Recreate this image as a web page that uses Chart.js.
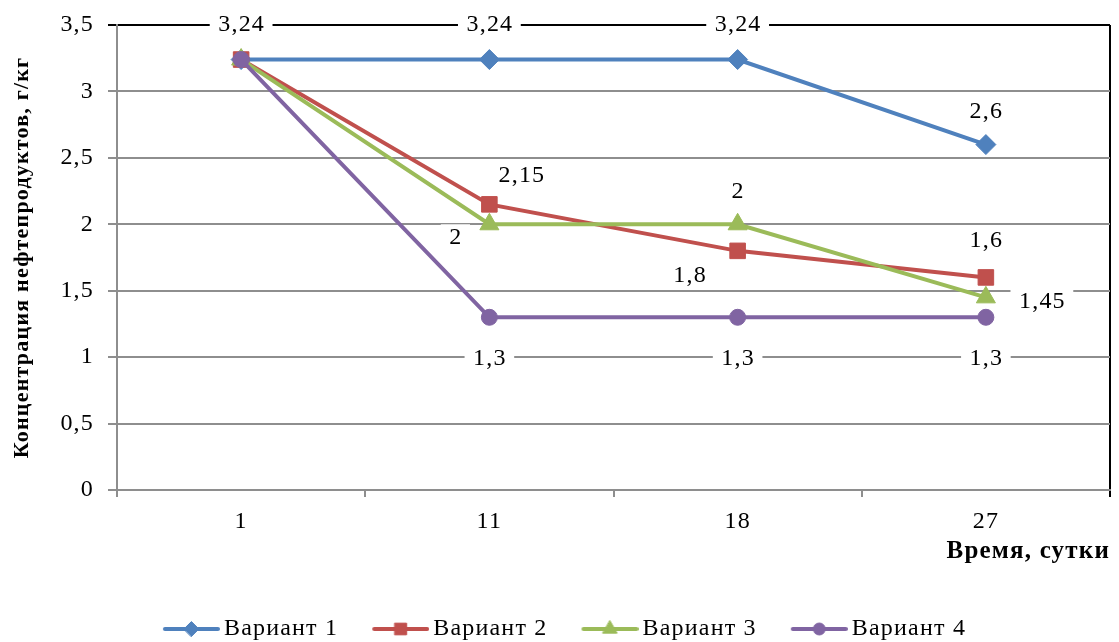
<!DOCTYPE html>
<html>
<head>
<meta charset="utf-8">
<script src="https://cdn.jsdelivr.net/npm/chart.js@4.4.1/dist/chart.umd.min.js"></script>
<style>
  html, body { margin: 0; padding: 0; background: #ffffff; }
  #wrap { width: 1119px; height: 642px; }
</style>
</head>
<body>
<div id="wrap"><canvas id="chart" width="1119" height="642"></canvas></div>
<script>
// ---- data ----
const days = ['1', '11', '18', '27'];
const variant1 = [3.24, 3.24, 3.24, 2.6];
const variant2 = [3.24, 2.15, 1.8, 1.6];
const variant3 = [3.24, 2, 2, 1.45];
const variant4 = [3.24, 1.3, 1.3, 1.3];
const seriesNames = ['Вариант 1', 'Вариант 2', 'Вариант 3', 'Вариант 4'];
const yTickValues = [0, 0.5, 1, 1.5, 2, 2.5, 3, 3.5];
const xAxisTitle = 'Время, сутки';
const yAxisTitle = 'Концентрация нефтепродуктов, г/кг';

// ---- styling ----
const SERIF = "'Liberation Serif', 'Times New Roman', serif";
const TEXT_SIZE = 24;
const GRID = '#8e8e8e';
const colors = ['#4f81bd', '#c0504d', '#9bbb59', '#8064a2'];
const markers = [
  { style: 'rectRot', radius: 10 },
  { style: 'rect', radius: 11 },
  { style: 'triangle', radius: 11 },
  { style: 'circle', radius: 8 }
];
// where each value label sits relative to its point (null = no label)
const labelOffsets = [
  [[0, -36], [0, -36], [0, -36], [0, -34]],
  [null, [32, -30], [-48, 24], [0, -38]],
  [null, [-34, 12], [0, -34], [56, 3]],
  [null, [0, 40], [0, 40], [0, 40]]
];
const LEGEND_DROP = 9;    // legend sits slightly below the canvas' nominal bottom edge
const PAD_LEFT = 18;      // shifts the centred legend a little to the right
const PLOT_LEFT = 117;
const PLOT_BOTTOM = 490;

const fmt = v => String(v).replace('.', ',');

// legend icons: a short line with the series marker in the middle
const LEGEND_BOX = 50;
function legendIcon(color, marker) {
  const c = document.createElement('canvas');
  c.width = LEGEND_BOX + 16;
  c.height = 22;
  const g = c.getContext('2d');
  g.strokeStyle = color;
  g.lineWidth = 4;
  g.lineCap = 'round';
  g.beginPath();
  g.moveTo(11, 11);
  g.lineTo(c.width - 2, 11);
  g.stroke();
  g.fillStyle = color;
  g.strokeStyle = color;
  g.lineWidth = 1;
  Chart.helpers.drawPoint(g, { pointStyle: marker.style, radius: marker.radius * 0.75, rotation: 0, borderWidth: 1 }, 9 + (c.width - 9) / 2, 11);
  return c;
}
const legendIcons = colors.map((c, i) => legendIcon(c, markers[i]));

// Times-like text in this chart is set fairly wide
const SPACING = '1.2px';
const textSpacing = {
  id: 'textSpacing',
  beforeUpdate(chart) { chart.ctx.letterSpacing = SPACING; },
  beforeLayout(chart) { chart.ctx.letterSpacing = SPACING; },
  beforeDraw(chart) { chart.ctx.letterSpacing = SPACING; }
};

// value labels on a white backing
const valueLabels = {
  id: 'valueLabels',
  afterDatasetsDraw(chart) {
    const ctx = chart.ctx;
    ctx.save();
    ctx.font = TEXT_SIZE + 'px ' + SERIF;
    ctx.textAlign = 'center';
    ctx.textBaseline = 'middle';
    chart.data.datasets.forEach((ds, di) => {
      const meta = chart.getDatasetMeta(di);
      meta.data.forEach((pt, i) => {
        const off = labelOffsets[di][i];
        if (!off) return;
        const x = pt.x + off[0];
        const y = pt.y + off[1];
        const txt = fmt(ds.data[i]);
        const w = ctx.measureText(txt).width;
        ctx.fillStyle = '#ffffff';
        ctx.fillRect(x - w / 2 - 8, y - 12, w + 16, 24);
        ctx.fillStyle = '#000000';
        ctx.fillText(txt, x + 0.5, y + 1);
      });
    });
    ctx.restore();
  }
};

const seriesValues = [variant1, variant2, variant3, variant4];
const datasets = seriesValues.map((vals, i) => ({
  label: seriesNames[i],
  data: vals,
  borderColor: colors[i],
  backgroundColor: colors[i],
  borderWidth: 4,
  tension: 0,
  pointStyle: markers[i].style,
  pointRadius: markers[i].radius,
  pointHoverRadius: markers[i].radius,
  pointBackgroundColor: colors[i],
  pointBorderColor: colors[i],
  pointBorderWidth: 1,
  order: seriesValues.length - 1 - i
}));

new Chart(document.getElementById('chart'), {
  type: 'line',
  data: { labels: days, datasets },
  plugins: [textSpacing, valueLabels],
  options: {
    responsive: false,
    devicePixelRatio: 1,
    animation: false,
    layout: {
      autoPadding: false,
      padding: { top: 25, right: 9, left: PAD_LEFT, bottom: -LEGEND_DROP }
    },
    plugins: {
      tooltip: { enabled: false },
      legend: {
        position: 'bottom',
        labels: {
          usePointStyle: true,
          pointStyleWidth: LEGEND_BOX,
          padding: 33,
          color: '#000',
          font: { family: SERIF, size: TEXT_SIZE },
          sort: (a, b) => a.datasetIndex - b.datasetIndex,
          generateLabels: chart => chart.data.datasets.map((ds, i) => ({
            text: ds.label,
            pointStyle: legendIcons[i],
            datasetIndex: i,
            fillStyle: 'transparent',
            strokeStyle: 'transparent',
            lineWidth: 0,
            hidden: false
          }))
        }
      }
    },
    scales: {
      x: {
        type: 'category',
        offset: true,
        grid: {
          offset: true,
          drawOnChartArea: true,
          color: c => (c.type === 'scale' ? '#000' : 'rgba(0,0,0,0)'),
          tickColor: c => (c.type === 'scale' ? '#000' : GRID),
          lineWidth: 2,
          tickWidth: 2,
          tickLength: 7
        },
        border: { color: GRID, width: 2 },
        ticks: {
          color: '#000',
          font: { family: SERIF, size: TEXT_SIZE },
          padding: 10,
          maxRotation: 0,
          autoSkip: false
        },
        title: {
          display: true,
          text: xAxisTitle,
          align: 'end',
          color: '#000',
          font: { family: SERIF, size: 25, weight: 'bold' },
          padding: { top: 0, bottom: 17 }
        },
        afterFit(s) {
          s.height = s.chart.height + LEGEND_DROP - PLOT_BOTTOM - s.chart.legend.height;
          s.paddingLeft = 0;
          s.paddingRight = 0;
        }
      },
      y: {
        min: 0,
        max: 3.5,
        afterBuildTicks(s) { s.ticks = yTickValues.map(v => ({ value: v })); },
        grid: {
          color: c => (c.tick && c.tick.value === 3.5 ? '#000' : GRID),
          tickColor: c => (c.tick && c.tick.value === 3.5 ? '#000' : GRID),
          lineWidth: 2,
          tickWidth: 2,
          tickLength: 9
        },
        border: { color: GRID, width: 2 },
        ticks: {
          color: '#000',
          font: { family: SERIF, size: TEXT_SIZE },
          padding: 14,
          callback: v => fmt(v)
        },
        title: {
          display: true,
          text: yAxisTitle,
          color: '#000',
          font: { family: SERIF, size: 22, weight: 'bold' },
          padding: { top: -9, bottom: 0 }
        },
        afterFit(s) {
          s.width = PLOT_LEFT - PAD_LEFT;
          s.paddingTop = 0;
          s.paddingBottom = 0;
        }
      }
    }
  }
});
</script>
</body>
</html>
